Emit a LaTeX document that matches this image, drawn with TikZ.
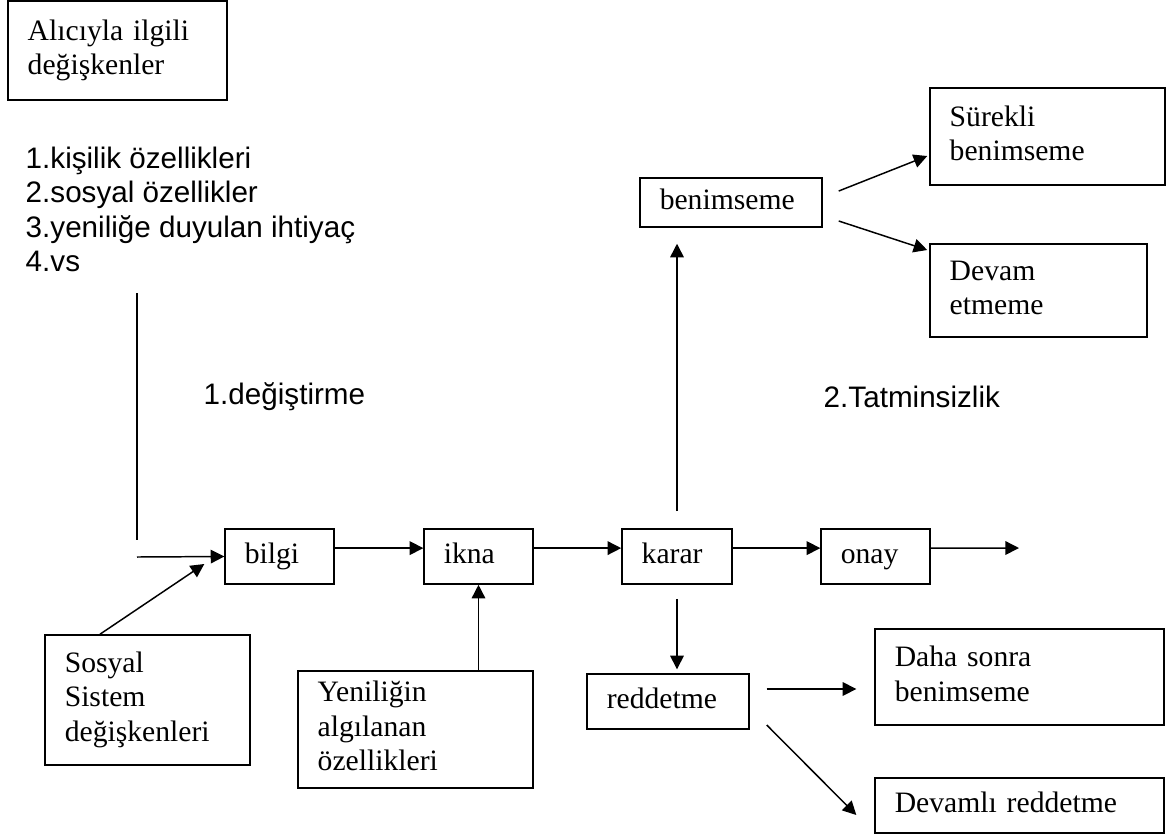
\documentclass[tikz,border=0pt]{standalone}
\usepackage{fontspec}
\setmainfont{Liberation Serif}
\newfontfamily\arialfont{Liberation Sans}
\usetikzlibrary{arrows.meta}

\begin{document}
\begin{tikzpicture}[
				x=0.405pt,y=-0.405pt,
				line width=0.6pt,
				box/.style 2 args={draw,rectangle,text width=#1,minimum height=#2,inner xsep=8pt,inner ysep=0pt,align=left,font=\fontsize{12}{14}\selectfont,execute at begin node=\strut,execute at end node=\strut},
				note/.style={inner sep=0pt,align=left,font=\arialfont\fontsize{12}{14}\selectfont},
				ok/.style={-{Triangle[length=5.5pt,width=5.5pt]}}
				]
				\useasboundingbox (0,0) rectangle (1173,834);
				
				\node[box={72.7pt}{40.1pt}] (alici) at (117.5,50.5) {Alıcıyla ilgili\\değişkenler};
				\node[note,anchor=north west] (liste) at (25,146) {1.kişilik özellikleri\\2.sosyal özellikler\\3.yeniliğe duyulan ihtiyaç\\4.vs};
				
				% Ana süreç
				\node[box={28.1pt}{22.3pt}] (bilgi) at (279.5,556.5) {bilgi};
				\node[box={28.1pt}{22.3pt}] (ikna) at (478.5,556.5) {ikna};
				\node[box={28.6pt}{22.3pt}] (karar) at (677,556.5) {karar};
				\node[box={28.1pt}{22.3pt}] (onay) at (875.5,556.5) {onay};
				
				\node[box={67pt}{52.7pt}] (sosyal) at (147.5,700) {Sosyal\\Sistem\\değişkenleri};
				\node[box={79.2pt}{47.4pt}] (yenilik) at (415.5,729.5) {Yeniliğin\\algılanan\\özellikleri};
				
				% Karar sonuçları
				\node[box={57.7pt}{19.8pt}] (benim) at (731,202.5) {benimseme};
				\node[box={79.2pt}{39.3pt}] (surekli) at (1047.5,136.5) {Sürekli\\benimseme};
				\node[box={71.9pt}{37.7pt}] (devam) at (1038.5,290.5) {Devam\\etmeme};
				\node[box={49.6pt}{22.3pt}] (red) at (668,701.5) {reddetme};
				\node[box={101pt}{38.9pt}] (daha) at (1019.5,677) {Daha sonra\\benimseme};
				\node[box={101pt}{22.3pt}] (devamli) at (1019.5,805.5) {Devamlı reddetme};
				
				\node[note,anchor=west] (degis) at (203,397) {1.değiştirme};
				\node[note,anchor=west] (tatmin) at (823,397) {2.Tatminsizlik};
				
				\coordinate (ust) at (137,293);
				\coordinate (alt) at (137,540);
				\coordinate (giris) at (137,557);
				\coordinate (cikis) at (1019,548);
				
				\draw (ust) -- (alt);
				\draw[ok] (giris) -- (bilgi.west);
				\draw[ok] ([shift={(-47.5,0)}]sosyal.north) -- ([shift={(-20,7.5)}]bilgi.west);
				\draw[ok] ([yshift=3.4pt]bilgi.east) -- ([yshift=3.4pt]ikna.west);
				\draw[ok] ([yshift=3.4pt]ikna.east) -- ([yshift=3.4pt]karar.west);
				\draw[ok] ([yshift=3.4pt]karar.east) -- ([yshift=3.4pt]onay.west);
				\draw[ok] ([yshift=3.4pt]onay.east) -- (cikis);
				\draw[ok] (ikna.south |- yenilik.north) -- (ikna.south);
				
				\draw[ok,shorten <=6.9pt,shorten >=6.5pt] (karar.north) -- (karar.north |- benim.south);
				\draw[ok,shorten <=5.7pt,shorten >=1.6pt] (karar.south) -- (karar.south |- red.north);
				\draw[ok] ([shift={(16,-11.5)}]benim.east) -- ([shift={(-2,19.5)}]surekli.west);
				\draw[ok] ([shift={(16,18.5)}]benim.east) -- ([shift={(-2,-40.5)}]devam.west);
				\draw[ok] ([shift={(17,-12.5)}]red.east) -- ([shift={(-18,12)}]daha.west);
				\draw[ok] ([shift={(17,23.5)}]red.east) -- ([shift={(-18,9.5)}]devamli.west);
				
			\end{tikzpicture}
\end{document}
